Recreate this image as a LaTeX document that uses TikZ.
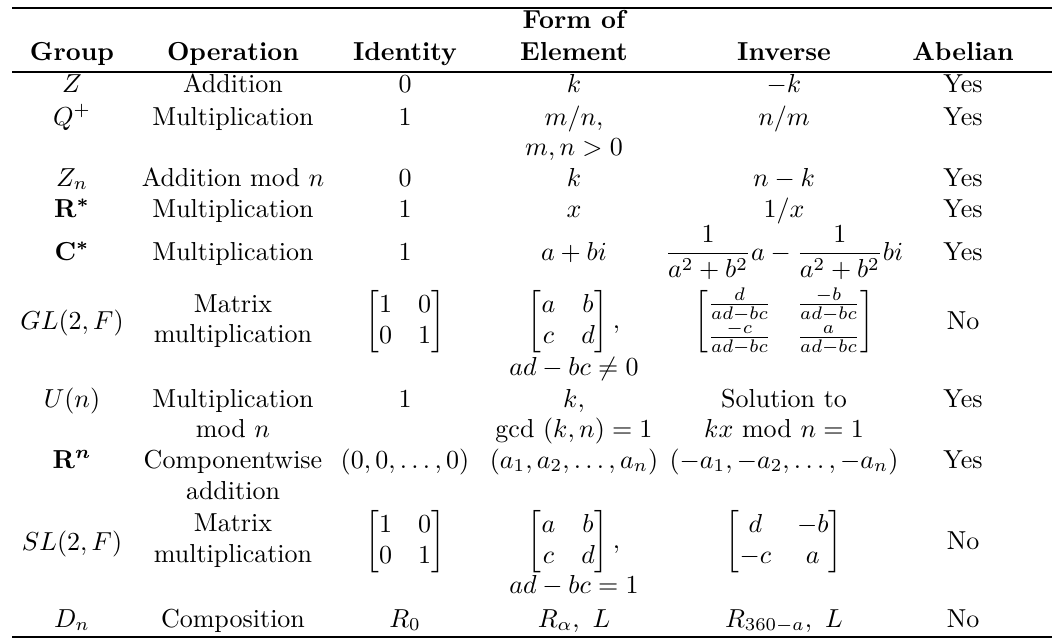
\documentclass[tikz,border=0pt]{standalone}
\usepackage{amsmath}
\begin{document}
\begin{tikzpicture}[x=0.3846pt,y=-0.3846pt,
  cell/.style={anchor=base, inner sep=0pt, font=\normalsize},
  hcell/.style={cell, font=\normalsize\bfseries},
  thickrule/.style={line width=0.85pt},
  thinrule/.style={line width=0.55pt}]
\useasboundingbox (0,0) rectangle (1057,641);
\def\cG{72}\def\cO{233}\def\cI{405}\def\cF{574}\def\cV{784}\def\cA{963}
% rules
\coordinate (tl) at (12,8); \coordinate (tr) at (1052,8);
\coordinate (ml) at (12,72); \coordinate (mr) at (1052,72);
\coordinate (bl) at (12,637); \coordinate (br) at (1052,637);
\draw[thickrule] (tl) -- (tr);
\draw[thinrule] (ml) -- (mr);
\draw[thickrule] (bl) -- (br);
% header
\node[hcell] (hG) at (\cG,60) {Group};
\node[hcell] (hO) at (\cO,60) {Operation};
\node[hcell] (hI) at (\cI,60) {Identity};
\node[hcell] (hF1) at (\cF,28) {Form of};
\node[hcell] (hF2) at (\cF,60) {Element};
\node[hcell] (hV) at (\cV,60) {Inverse};
\node[hcell] (hA) at (\cA,60) {Abelian};
% Z
\node[cell] (g1) at (\cG,92) {$Z$};
\node[cell] (o1) at (\cO,92) {Addition};
\node[cell] (i1) at (\cI,92) {$0$};
\node[cell] (f1) at (\cF,92) {$k$};
\node[cell] (v1) at (\cV,92) {$-k$};
\node[cell] (a1) at (\cA,92) {Yes};
% Q+
\node[cell] (g2) at (\cG,125) {$Q^+$};
\node[cell] (o2) at (\cO,125) {Multiplication};
\node[cell] (i2) at (\cI,125) {$1$};
\node[cell] (f2) at (\cF,125) {$m/n,$};
\node[cell] (f2b) at (\cF,155) {$m,n>0$};
\node[cell] (v2) at (\cV,125) {$n/m$};
\node[cell] (a2) at (\cA,125) {Yes};
% Zn
\node[cell] (g3) at (\cG,186) {$Z_n$};
\node[cell] (o3) at (\cO,186) {Addition mod $n$};
\node[cell] (i3) at (\cI,186) {$0$};
\node[cell] (f3) at (\cF,186) {$k$};
\node[cell] (v3) at (\cV,186) {$n-k$};
\node[cell] (a3) at (\cA,186) {Yes};
% R*
\node[cell] (g4) at (\cG,217) {$\mathbf{R}^{\boldsymbol{*}}$};
\node[cell] (o4) at (\cO,217) {Multiplication};
\node[cell] (i4) at (\cI,217) {$1$};
\node[cell] (f4) at (\cF,217) {$x$};
\node[cell] (v4) at (\cV,217) {$1/x$};
\node[cell] (a4) at (\cA,217) {Yes};
% C*
\node[cell] (g5) at (\cG,260) {$\mathbf{C}^{\boldsymbol{*}}$};
\node[cell] (o5) at (\cO,260) {Multiplication};
\node[cell] (i5) at (\cI,260) {$1$};
\node[cell] (f5) at (\cF,260) {$a+bi$};
\node[cell] (v5) at (\cV,260) {$\dfrac{1}{a^2+b^2}a-\dfrac{1}{a^2+b^2}bi$};
\node[cell] (a5) at (\cA,260) {Yes};
% GL
\node[cell] (g6) at (\cG,329) {$GL(2,F)$};
\node[cell] (o6) at (\cO,312) {Matrix};
\node[cell] (o6b) at (\cO,342) {multiplication};
\node[cell] (i6) at (\cI,328) {$\begin{bmatrix}1&0\\0&1\end{bmatrix}$};
\node[cell] (f6) at (\cF,328) {$\begin{bmatrix}a&b\\c&d\end{bmatrix},$};
\node[cell] (f6b) at (\cF,375) {$ad-bc\neq 0$};
\node[cell] (v6) at (\cV,328) {$\begin{bmatrix}\frac{d}{ad-bc}&\frac{-b}{ad-bc}\\\frac{-c}{ad-bc}&\frac{a}{ad-bc}\end{bmatrix}$};
\node[cell] (a6) at (\cA,329) {No};
% U(n)
\node[cell] (g7) at (\cG,407) {$U(n)$};
\node[cell] (o7) at (\cO,407) {Multiplication};
\node[cell] (o7b) at (\cO,437) {mod $n$};
\node[cell] (i7) at (\cI,407) {$1$};
\node[cell] (f7) at (\cF,407) {$k,$};
\node[cell] (f7b) at (\cF,437) {gcd $(k,n)=1$};
\node[cell] (v7) at (\cV,407) {Solution to};
\node[cell] (v7b) at (\cV,437) {$kx$ mod $n=1$};
\node[cell] (a7) at (\cA,407) {Yes};
% R^n
\node[cell] (g8) at (\cG,468) {$\mathbf{R}^{\boldsymbol{n}}$};
\node[cell] (o8) at (\cO,468) {Componentwise};
\node[cell] (o8b) at (\cO,499) {addition};
\node[cell] (i8) at (\cI,468) {$(0,0,\ldots,0)$};
\node[cell] (f8) at (\cF,468) {$(a_1,a_2,\ldots,a_n)$};
\node[cell] (v8) at (\cV,468) {$(-a_1,-a_2,\ldots,-a_n)$};
\node[cell] (a8) at (\cA,468) {Yes};
% SL
\node[cell] (g9) at (\cG,550) {$SL(2,F)$};
\node[cell] (o9) at (\cO,531) {Matrix};
\node[cell] (o9b) at (\cO,562) {multiplication};
\node[cell] (i9) at (\cI,548) {$\begin{bmatrix}1&0\\0&1\end{bmatrix}$};
\node[cell] (f9) at (\cF,548) {$\begin{bmatrix}a&b\\c&d\end{bmatrix},$};
\node[cell] (f9b) at (\cF,593) {$ad-bc=1$};
\node[cell] (v9) at (\cV,548) {$\begin{bmatrix}d&-b\\-c&a\end{bmatrix}$};
\node[cell] (a9) at (\cA,549) {No};
% Dn
\node[cell] (g10) at (\cG,627) {$D_n$};
\node[cell] (o10) at (\cO,627) {Composition};
\node[cell] (i10) at (\cI,627) {$R_0$};
\node[cell] (f10) at (\cF,627) {$R_\alpha,\ L$};
\node[cell] (v10) at (\cV,627) {$R_{360-a},\ L$};
\node[cell] (a10) at (\cA,627) {No};
\end{tikzpicture}
\end{document}
